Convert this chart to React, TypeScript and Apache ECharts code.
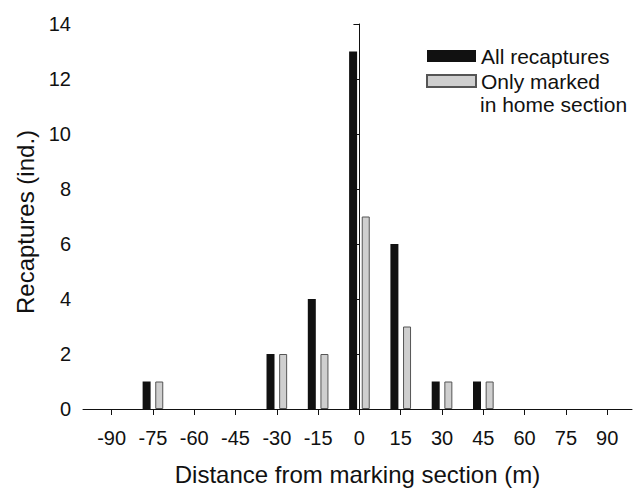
import React, { useEffect, useRef } from "react";
import * as echarts from "echarts";

const distances = [-75, -30, -15, 0, 15, 30, 45];
const allRecaptures = [1, 2, 4, 13, 6, 1, 1];
const homeSection = [1, 2, 2, 7, 3, 1, 1];
const xTicks = [-90, -75, -60, -45, -30, -15, 0, 15, 30, 45, 60, 75, 90];

const FONT = "'Liberation Sans', Arial, Helvetica, sans-serif";

export default function App() {
  const ref = useRef<HTMLDivElement>(null);
  useEffect(() => {
    if (!ref.current) return;
    const chart = echarts.init(ref.current, undefined, { renderer: "svg" });
    chart.setOption({
      animation: false,
      backgroundColor: "#ffffff",
      textStyle: { fontFamily: FONT },
      grid: { left: 83, top: 24, right: 1, bottom: 79, containLabel: false, outerBoundsMode: "none" },
      legend: {
        orient: "vertical",
        left: 426,
        top: 44,
        padding: 0,
        itemWidth: 49,
        itemHeight: 12,
        itemGap: 1,
        icon: "rect",
        textStyle: { fontSize: 21, color: "#111", lineHeight: 24, fontFamily: FONT },
        data: ["All recaptures", "Only marked"],
      },
      graphic: [
        {
          type: "text",
          left: 480,
          top: 94,
          style: { text: "in home section", fontSize: 21, fill: "#111", fontFamily: FONT },
        },
      ],
      xAxis: {
        type: "value",
        min: -100.4,
        max: 99,
        name: "Distance from marking section (m)",
        nameLocation: "middle",
        nameGap: 53,
        nameTextStyle: { fontSize: 24, color: "#111", fontFamily: FONT },
        axisLine: { show: true, lineStyle: { color: "#111", width: 1 } },
        axisTick: { show: true, length: 6, customValues: xTicks, lineStyle: { color: "#111" } },
        axisLabel: { customValues: xTicks, fontSize: 20, color: "#111", margin: 19, fontFamily: FONT },
        splitLine: { show: false },
      },
      yAxis: {
        type: "value",
        min: 0,
        max: 14,
        interval: 2,
        name: "Recaptures (ind.)",
        nameLocation: "middle",
        nameRotate: 90,
        nameGap: 46,
        nameTextStyle: { fontSize: 24, color: "#111", padding: [0, 11, 0, 0], fontFamily: FONT },
        axisLine: { show: true, lineStyle: { color: "#111", width: 1 } },
        axisTick: { show: true, length: 6, lineStyle: { color: "#111" } },
        axisLabel: { fontSize: 20, color: "#111", margin: 12, fontFamily: FONT },
        splitLine: { show: false },
      },
      series: [
        {
          name: "All recaptures",
          type: "bar",
          barWidth: 8,
          barGap: "58%",
          itemStyle: { color: "#111111" },
          data: distances.map((d, i) => [d, allRecaptures[i]]),
        },
        {
          name: "Only marked",
          type: "bar",
          barWidth: 8,
          barGap: "58%",
          itemStyle: { color: "#cfcfcf", borderColor: "#555", borderWidth: 1 },
          data: distances.map((d, i) => [d, homeSection[i]]),
        },
      ],
    });
    return () => chart.dispose();
  }, []);
  return <div ref={ref} style={{ position: "fixed", left: 0, top: 0, width: 633, height: 488 }} />;
}
